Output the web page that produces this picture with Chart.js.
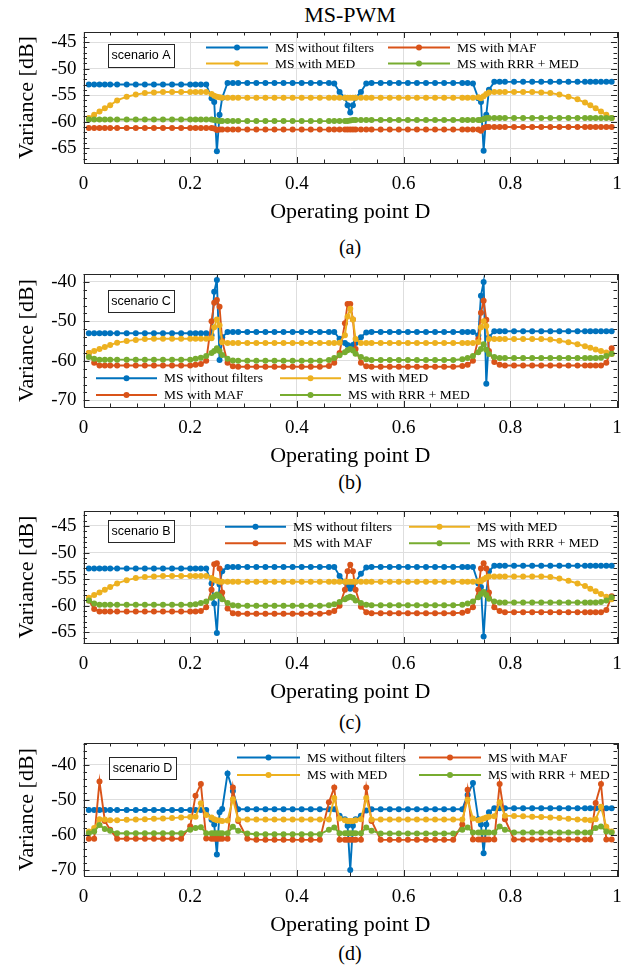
<!DOCTYPE html>
<html><head><meta charset="utf-8">
<script src="https://cdn.jsdelivr.net/npm/chart.js@4.4.1/dist/chart.umd.min.js"></script>
<style>
body{margin:0;background:#fff;width:638px;height:969px;position:relative;overflow:hidden;}
canvas{position:absolute;left:0;}
.t{position:absolute;left:0;width:700px;text-align:center;color:#000;font-family:'Liberation Serif',serif;}
</style></head><body>
<div class="t" style="top:2px;font-size:22px;line-height:26px;">MS-PWM</div>
<div class="t" style="top:235px;font-size:20px;line-height:24px;">(a)</div>
<div class="t" style="top:470px;font-size:20px;line-height:24px;">(b)</div>
<div class="t" style="top:710px;font-size:20px;line-height:24px;">(c)</div>
<div class="t" style="top:941px;font-size:20px;line-height:24px;">(d)</div>
<canvas id="ca"></canvas><canvas id="cb"></canvas><canvas id="cc"></canvas><canvas id="cd"></canvas>
<script>
// ---------------- data ----------------
const xD = [0.01,0.02,0.03,0.04,0.05,0.063,0.081,0.098,0.115,0.132,
 0.149,0.166,0.183,0.20,0.21,0.22,0.23,0.24,0.245,0.25,
 0.255,0.26,0.27,0.28,0.29,0.307,0.324,0.341,0.358,0.375,
 0.392,0.409,0.426,0.443,0.46,0.47,0.48,0.49,0.495,0.50,
 0.505,0.51,0.52,0.53,0.54,0.557,0.574,0.591,0.608,0.625,
 0.642,0.659,0.676,0.693,0.71,0.72,0.73,0.74,0.745,0.75,
 0.755,0.76,0.77,0.78,0.79,0.807,0.824,0.841,0.858,0.875,
 0.892,0.909,0.926,0.94,0.95,0.96,0.97,0.98,0.99];
const xTickVals = [0,0.2,0.4,0.6,0.8,1];
const xTickLabels = ['0','0.2','0.4','0.6','0.8','1'];
const yTicksA = [-65,-60,-55,-50,-45];
const yTicksB = [-70,-60,-50,-40];
const yTicksC = [-65,-60,-55,-50,-45];
const yTicksD = [-70,-60,-50,-40];
const seriesNames = ['MS without filters','MS with MAF','MS with MED','MS with RRR + MED'];
const scenarioNames = ['scenario A','scenario C','scenario B','scenario D'];

// scenario A
const blueA = [-53.0,-53.0,-53.0,-53.0,-53.0,-53.0,-53.0,-53.0,-53.0,-53.0,
 -53.0,-53.0,-53.0,-53.0,-53.0,-53.0,-53.0,-55.6,-56.3,-65.6,
 -58.7,-55.5,-52.7,-52.7,-52.7,-52.7,-52.7,-52.7,-52.7,-52.7,
 -52.7,-52.7,-52.7,-52.7,-52.7,-52.8,-54.4,-55.5,-56.9,-58.3,
 -56.9,-55.5,-54.4,-52.8,-52.7,-52.7,-52.7,-52.7,-52.7,-52.7,
 -52.7,-52.7,-52.7,-52.7,-52.7,-52.7,-52.8,-55.6,-56.3,-65.5,
 -58.7,-54.0,-52.5,-52.5,-52.5,-52.5,-52.5,-52.5,-52.5,-52.5,
 -52.5,-52.5,-52.5,-52.5,-52.5,-52.5,-52.5,-52.5,-52.5];
const redA = [-61.2,-61.2,-61.2,-61.2,-61.2,-61.2,-61.2,-61.2,-61.2,-61.2,
 -61.2,-61.2,-61.2,-61.2,-61.2,-61.2,-61.2,-61.2,-61.3,-61.6,
 -61.5,-61.5,-61.5,-61.5,-61.5,-61.5,-61.5,-61.5,-61.5,-61.5,
 -61.5,-61.5,-61.5,-61.5,-61.5,-61.5,-61.5,-61.5,-61.5,-61.5,
 -61.5,-61.5,-61.5,-61.5,-61.5,-61.5,-61.5,-61.5,-61.5,-61.5,
 -61.5,-61.5,-61.5,-61.5,-61.5,-61.5,-61.5,-61.5,-61.7,-61.2,
 -61.0,-61.0,-61.0,-61.0,-61.0,-61.0,-61.0,-61.0,-61.0,-61.0,
 -61.0,-61.0,-61.0,-61.0,-61.0,-61.0,-61.0,-61.0,-61.0];
const yellowA = [-59.3,-58.7,-58.1,-57.5,-56.9,-56.0,-55.3,-54.9,-54.6,-54.5,
 -54.4,-54.4,-54.4,-54.4,-54.4,-54.4,-54.4,-54.8,-55.1,-55.3,
 -55.4,-55.5,-55.5,-55.5,-55.5,-55.5,-55.5,-55.5,-55.5,-55.5,
 -55.5,-55.5,-55.5,-55.5,-55.5,-55.5,-55.5,-55.5,-55.5,-55.5,
 -55.5,-55.5,-55.5,-55.5,-55.5,-55.5,-55.5,-55.5,-55.5,-55.5,
 -55.5,-55.5,-55.5,-55.5,-55.5,-55.5,-55.5,-55.4,-55.6,-55.2,
 -54.8,-54.5,-54.4,-54.4,-54.4,-54.4,-54.4,-54.4,-54.5,-54.6,
 -54.9,-55.3,-55.8,-56.4,-56.9,-57.5,-58.1,-58.7,-59.3];
const greenA = [-59.6,-59.6,-59.6,-59.6,-59.6,-59.6,-59.6,-59.6,-59.6,-59.6,
 -59.6,-59.6,-59.6,-59.6,-59.6,-59.6,-59.6,-59.6,-59.7,-59.8,
 -59.9,-59.9,-59.9,-59.9,-59.9,-59.9,-59.9,-59.9,-59.9,-59.9,
 -59.9,-59.9,-59.9,-59.9,-59.9,-59.9,-59.9,-59.9,-59.9,-59.8,
 -59.7,-59.7,-59.7,-59.7,-59.7,-59.7,-59.7,-59.7,-59.7,-59.7,
 -59.7,-59.7,-59.7,-59.7,-59.7,-59.7,-59.7,-59.7,-59.7,-59.5,
 -59.3,-59.3,-59.3,-59.3,-59.3,-59.3,-59.3,-59.3,-59.3,-59.3,
 -59.3,-59.3,-59.3,-59.3,-59.3,-59.3,-59.3,-59.3,-59.3];

// scenario C
const blueB = [-53.0,-53.0,-53.0,-53.0,-53.0,-53.0,-53.0,-53.0,-53.0,-53.0,
 -53.0,-53.0,-53.0,-53.0,-53.0,-53.0,-53.0,-53.5,-42.5,-39.5,
 -59.8,-54.0,-52.7,-52.7,-52.7,-52.7,-52.7,-52.7,-52.7,-52.7,
 -52.7,-52.7,-52.7,-52.7,-52.7,-52.7,-54.4,-55.5,-56.0,-56.5,
 -56.0,-55.5,-54.0,-52.8,-52.7,-52.7,-52.7,-52.7,-52.7,-52.7,
 -52.7,-52.7,-52.7,-52.7,-52.7,-52.7,-52.7,-53.5,-43.5,-40.0,
 -65.8,-54.0,-52.5,-52.5,-52.5,-52.5,-52.5,-52.5,-52.5,-52.5,
 -52.5,-52.5,-52.5,-52.5,-52.5,-52.5,-52.5,-52.5,-52.5];
const redB = [-58.0,-60.5,-61.2,-61.2,-61.2,-61.2,-61.2,-61.2,-61.2,-61.2,
 -61.2,-61.2,-61.2,-61.2,-61.0,-60.8,-60.0,-50.0,-45.3,-44.6,
 -46.3,-55.0,-60.5,-61.4,-61.5,-61.5,-61.5,-61.5,-61.5,-61.5,
 -61.5,-61.5,-61.5,-61.5,-61.3,-60.5,-58.0,-50.5,-45.6,-45.6,
 -49.5,-57.0,-60.5,-61.4,-61.5,-61.5,-61.5,-61.5,-61.5,-61.5,
 -61.5,-61.5,-61.5,-61.5,-61.3,-61.0,-60.0,-54.5,-47.8,-44.8,
 -49.6,-57.5,-60.3,-61.0,-61.2,-61.2,-61.2,-61.2,-61.2,-61.2,
 -61.2,-61.2,-61.2,-61.2,-61.2,-61.2,-61.2,-60.5,-56.8];
const yellowB = [-58.0,-57.5,-57.0,-56.5,-56.0,-55.4,-55.0,-54.7,-54.5,-54.4,
 -54.4,-54.4,-54.4,-54.4,-54.4,-54.4,-54.4,-54.3,-51.5,-49.5,
 -51.0,-55.3,-55.5,-55.5,-55.5,-55.5,-55.5,-55.5,-55.5,-55.5,
 -55.5,-55.5,-55.5,-55.5,-55.5,-55.5,-55.4,-53.5,-48.8,-46.8,
 -49.5,-54.5,-55.5,-55.5,-55.5,-55.5,-55.5,-55.5,-55.5,-55.5,
 -55.5,-55.5,-55.5,-55.5,-55.5,-55.5,-55.5,-55.2,-51.5,-50.0,
 -51.2,-54.5,-54.5,-54.5,-54.5,-54.5,-54.5,-54.5,-54.5,-54.6,
 -54.9,-55.3,-55.8,-56.3,-56.7,-57.1,-57.5,-57.9,-58.3];
const greenB = [-59.0,-59.5,-59.7,-59.7,-59.7,-59.7,-59.7,-59.7,-59.7,-59.7,
 -59.7,-59.7,-59.7,-59.7,-59.5,-59.2,-58.8,-58.0,-57.5,-56.8,
 -57.5,-58.5,-59.5,-59.9,-60.0,-60.0,-60.0,-60.0,-60.0,-60.0,
 -60.0,-60.0,-60.0,-60.0,-59.8,-59.3,-58.6,-57.8,-57.3,-57.0,
 -57.4,-58.2,-59.0,-59.6,-59.8,-59.8,-59.8,-59.8,-59.8,-59.8,
 -59.8,-59.8,-59.8,-59.8,-59.6,-59.3,-58.8,-57.8,-57.0,-55.8,
 -57.2,-58.3,-59.0,-59.3,-59.3,-59.3,-59.3,-59.3,-59.3,-59.3,
 -59.3,-59.3,-59.3,-59.3,-59.3,-59.3,-59.2,-58.8,-58.2];

// scenario B
const blueC = [-53.0,-53.0,-53.0,-53.0,-53.0,-53.0,-53.0,-53.0,-53.0,-53.0,
 -53.0,-53.0,-53.0,-53.0,-53.0,-53.0,-53.0,-55.8,-59.6,-65.1,
 -56.0,-53.5,-52.7,-52.7,-52.7,-52.7,-52.7,-52.7,-52.7,-52.7,
 -52.7,-52.7,-52.7,-52.7,-52.7,-52.7,-54.4,-55.5,-56.2,-56.8,
 -56.2,-55.5,-54.0,-52.8,-52.7,-52.7,-52.7,-52.7,-52.7,-52.7,
 -52.7,-52.7,-52.7,-52.7,-52.7,-52.7,-52.7,-55.8,-56.5,-65.8,
 -57.5,-53.5,-52.5,-52.5,-52.5,-52.5,-52.5,-52.5,-52.5,-52.5,
 -52.5,-52.5,-52.5,-52.5,-52.5,-52.5,-52.5,-52.5,-52.5];
const redC = [-59.0,-60.6,-61.1,-61.1,-61.1,-61.1,-61.1,-61.1,-61.1,-61.1,
 -61.1,-61.1,-61.1,-61.1,-61.1,-61.0,-60.3,-57.0,-52.2,-52.0,
 -53.0,-57.5,-60.5,-61.4,-61.5,-61.5,-61.5,-61.5,-61.5,-61.5,
 -61.5,-61.5,-61.5,-61.5,-61.3,-61.0,-60.0,-57.0,-53.5,-52.3,
 -53.5,-57.0,-60.2,-61.2,-61.4,-61.4,-61.4,-61.4,-61.4,-61.4,
 -61.4,-61.4,-61.4,-61.4,-61.3,-61.0,-60.3,-57.0,-53.0,-52.0,
 -53.0,-57.5,-60.3,-61.0,-61.2,-61.2,-61.2,-61.2,-61.2,-61.2,
 -61.2,-61.2,-61.2,-61.2,-61.2,-61.2,-61.2,-60.8,-58.2];
const yellowC = [-58.5,-58.0,-57.5,-57.0,-56.5,-55.8,-55.2,-54.8,-54.6,-54.5,
 -54.4,-54.4,-54.4,-54.4,-54.4,-54.4,-54.4,-54.8,-55.1,-55.3,
 -55.5,-55.5,-55.5,-55.5,-55.5,-55.5,-55.5,-55.5,-55.5,-55.5,
 -55.5,-55.5,-55.5,-55.5,-55.5,-55.5,-55.5,-55.5,-55.5,-55.5,
 -55.5,-55.5,-55.5,-55.5,-55.5,-55.5,-55.5,-55.5,-55.5,-55.5,
 -55.5,-55.5,-55.5,-55.5,-55.5,-55.5,-55.5,-55.4,-55.4,-55.0,
 -54.7,-54.5,-54.5,-54.5,-54.5,-54.5,-54.5,-54.5,-54.5,-54.6,
 -54.9,-55.3,-55.8,-56.3,-56.8,-57.3,-57.8,-58.3,-58.8];
const greenC = [-59.0,-59.6,-59.8,-59.8,-59.8,-59.8,-59.8,-59.8,-59.8,-59.8,
 -59.8,-59.8,-59.8,-59.8,-59.7,-59.5,-59.2,-58.5,-58.2,-57.9,
 -58.2,-58.8,-59.5,-59.9,-60.0,-60.0,-60.0,-60.0,-60.0,-60.0,
 -60.0,-60.0,-60.0,-60.0,-59.9,-59.7,-59.3,-58.8,-58.5,-58.3,
 -58.5,-59.0,-59.5,-59.8,-59.9,-59.9,-59.9,-59.9,-59.9,-59.9,
 -59.9,-59.9,-59.9,-59.9,-59.8,-59.6,-59.2,-58.4,-57.8,-57.4,
 -58.0,-58.7,-59.2,-59.4,-59.4,-59.4,-59.4,-59.4,-59.4,-59.4,
 -59.4,-59.4,-59.4,-59.4,-59.4,-59.4,-59.3,-59.0,-58.4];

// scenario D
const blueD = [-52.9,-52.9,-52.9,-52.9,-52.9,-52.9,-52.9,-52.9,-52.9,-52.9,
 -52.9,-52.9,-52.9,-52.9,-52.9,-52.9,-52.9,-55.7,-57.0,-65.6,
 -53.5,-52.6,-42.5,-47.5,-52.7,-52.7,-52.7,-52.7,-52.7,-52.7,
 -52.7,-52.7,-52.7,-52.7,-52.7,-52.7,-54.5,-55.5,-57.4,-70.0,
 -57.4,-55.5,-54.5,-53.0,-52.7,-52.7,-52.7,-52.7,-52.7,-52.7,
 -52.7,-52.7,-52.7,-52.7,-52.7,-48.6,-45.2,-55.5,-57.0,-65.2,
 -57.0,-53.5,-52.4,-52.4,-52.4,-52.4,-52.4,-52.4,-52.4,-52.4,
 -52.4,-52.4,-52.4,-52.4,-52.4,-52.4,-52.4,-52.4,-52.4];
const redD = [-61.1,-61.1,-44.8,-56.0,-58.5,-61.1,-61.1,-61.1,-61.1,-61.1,
 -61.1,-61.1,-61.1,-57.5,-48.8,-45.5,-61.0,-61.1,-61.1,-61.1,
 -61.1,-61.1,-61.1,-46.5,-56.0,-61.1,-61.4,-61.4,-61.4,-61.4,
 -61.4,-61.4,-61.4,-61.4,-50.7,-46.5,-61.4,-61.4,-61.4,-61.4,
 -61.4,-61.4,-61.4,-46.5,-56.0,-61.4,-61.4,-61.4,-61.4,-61.4,
 -61.4,-61.4,-61.4,-61.4,-57.0,-47.1,-61.3,-61.3,-61.3,-61.3,
 -61.3,-61.3,-61.3,-45.5,-55.5,-61.3,-61.3,-61.3,-61.3,-61.3,
 -61.3,-61.3,-61.3,-61.3,-61.3,-50.9,-45.5,-61.3,-61.3];
const yellowD = [-59.0,-58.0,-55.5,-55.6,-55.8,-55.8,-55.7,-55.6,-55.5,-55.4,
 -55.3,-55.2,-55.0,-54.9,-54.8,-51.0,-54.3,-55.0,-55.5,-55.8,
 -55.9,-56.0,-55.9,-49.8,-55.6,-55.6,-55.6,-55.6,-55.6,-55.6,
 -55.6,-55.6,-55.6,-55.6,-55.6,-49.5,-55.3,-55.8,-56.0,-56.0,
 -56.0,-55.8,-55.5,-49.5,-55.6,-55.6,-55.6,-55.6,-55.6,-55.6,
 -55.6,-55.6,-55.6,-55.6,-55.6,-50.0,-55.3,-55.8,-55.6,-55.3,
 -55.0,-54.8,-54.7,-50.7,-54.5,-54.6,-54.7,-54.8,-54.9,-55.0,
 -55.2,-55.4,-55.6,-55.7,-55.8,-55.5,-52.0,-57.7,-59.0];
const greenD = [-59.5,-59.0,-57.2,-58.3,-58.8,-59.5,-59.5,-59.5,-59.5,-59.5,
 -59.5,-59.5,-59.5,-58.5,-58.0,-57.8,-59.5,-59.5,-59.5,-59.5,
 -59.5,-59.5,-59.5,-57.7,-58.8,-59.6,-59.8,-59.8,-59.8,-59.8,
 -59.8,-59.8,-59.8,-59.8,-58.5,-57.9,-59.5,-59.5,-59.5,-59.5,
 -59.5,-59.5,-59.5,-57.9,-58.8,-59.6,-59.6,-59.6,-59.6,-59.6,
 -59.6,-59.6,-59.6,-59.6,-58.5,-57.9,-59.3,-59.3,-59.3,-59.3,
 -59.3,-59.3,-59.3,-57.6,-58.5,-59.3,-59.3,-59.3,-59.3,-59.3,
 -59.3,-59.3,-59.3,-59.3,-59.3,-58.0,-57.6,-59.0,-59.3];

// ---------------- styling / layout ----------------
const COLORS = ['#0072BD','#D95319','#EDB120','#77AC30'];
const ORDERS = [3,2,1,0];
const SERIF = "'Liberation Serif', 'Times New Roman', serif";
const AX = '#262626';

function makePlot(id, frameTop, frameBottom, yMin, yMax, yTicks, yMinor, series, legend, scen, box) {
  const Ti = frameTop - 20;
  const H = frameBottom + 62 - Ti;
  const cv = document.getElementById(id);
  cv.width = 638; cv.height = H; cv.style.top = Ti + 'px';
  const datasets = series.map((arr, k) => ({
    label: seriesNames[k],
    data: xD.map((x, i) => ({x: x, y: arr[i]})),
    borderColor: COLORS[k], backgroundColor: COLORS[k],
    borderWidth: 1.9, pointRadius: 3.0, pointBorderWidth: 0, pointHoverRadius: 0,
    tension: 0, order: ORDERS[k]
  }));
  const deco = {
    id: 'deco_' + id,
    afterDatasetsDraw(chart) {
      const ctx = chart.ctx;
      const {left, right, top, bottom} = chart.chartArea;
      const xs = chart.scales.x, ys = chart.scales.y;
      ctx.save();
      ctx.strokeStyle = AX; ctx.lineWidth = 1;
      ctx.beginPath();
      for (let v = 0; v <= 1.0001; v += 0.05) {
        const major = Math.abs(v * 5 - Math.round(v * 5)) < 1e-6;
        const len = major ? 6 : 3.5;
        const p = Math.round(xs.getPixelForValue(v)) + 0.5;
        ctx.moveTo(p, bottom); ctx.lineTo(p, bottom - len);
        ctx.moveTo(p, top); ctx.lineTo(p, top + len);
      }
      for (let v = Math.ceil(yMin); v <= yMax; v += 1) {
        if (Math.abs(v % yMinor) > 1e-6) continue;
        const major = yTicks.indexOf(v) >= 0;
        const len = major ? 6 : 3.5;
        const p = Math.round(ys.getPixelForValue(v)) + 0.5;
        ctx.moveTo(left, p); ctx.lineTo(left + len, p);
        ctx.moveTo(right, p); ctx.lineTo(right - len, p);
      }
      ctx.stroke();
      ctx.strokeRect(Math.round(left) + 0.5, Math.round(top) + 0.5, Math.round(right - left), Math.round(bottom - top));
      // scenario box
      ctx.fillStyle = '#fff';
      ctx.fillRect(box[0], box[1] - Ti, box[2], box[3]);
      ctx.strokeRect(box[0] + 0.5, box[1] - Ti + 0.5, box[2], box[3]);
      ctx.fillStyle = '#000';
      ctx.font = "12.5px 'Liberation Sans', Arial, sans-serif";
      ctx.textAlign = 'center'; ctx.textBaseline = 'middle';
      ctx.fillText(scen, box[0] + box[2] / 2, box[1] - Ti + box[3] / 2 + 0.5);
      // legend
      ctx.textAlign = 'left';
      ctx.font = '13.5px ' + SERIF;
      for (const it of legend) {
        const k = it[0], x1 = it[1], x2 = it[2], y = it[3] - Ti;
        ctx.strokeStyle = COLORS[k]; ctx.lineWidth = 1.9;
        ctx.beginPath(); ctx.moveTo(x1, y); ctx.lineTo(x2, y); ctx.stroke();
        ctx.fillStyle = COLORS[k];
        ctx.beginPath(); ctx.arc((x1 + x2) / 2, y, 3.0, 0, Math.PI * 2); ctx.fill();
        ctx.fillStyle = '#000';
        ctx.fillText(seriesNames[k], x2 + 7, y + 0.5);
      }
      ctx.restore();
    }
  };
  return new Chart(cv, {
    type: 'line',
    data: {datasets},
    options: {
      responsive: false, animation: false, events: [], devicePixelRatio: 1,
      layout: {padding: {top: 20, right: 21, left: 0, bottom: 0}},
      plugins: {legend: {display: false}, tooltip: {enabled: false}, title: {display: false}},
      scales: {
        x: {
          type: 'linear', min: 0, max: 1,
          afterBuildTicks: s => { s.ticks = xTickVals.map(v => ({value: v})); },
          afterFit: s => { s.height = 62; },
          ticks: {autoSkip: false, maxRotation: 0, padding: 10, color: '#000',
            font: {family: SERIF, size: 19}, callback: (v, i) => xTickLabels[i]},
          grid: {color: '#dedede', drawTicks: false, lineWidth: 1},
          border: {display: false},
          title: {display: true, text: 'Operating point D', color: '#000',
            font: {family: SERIF, size: 22}, padding: {top: 0, bottom: 0}}
        },
        y: {
          type: 'linear', min: yMin, max: yMax,
          afterBuildTicks: s => { s.ticks = yTicks.map(v => ({value: v})); },
          afterFit: s => { s.width = 83.5; },
          ticks: {autoSkip: false, padding: 7, color: '#000',
            font: {family: SERIF, size: 19}, callback: (v) => String(v)},
          grid: {color: '#dedede', drawTicks: false, lineWidth: 1},
          border: {display: false},
          title: {display: true, text: 'Variance [dB]', color: '#000',
            font: {family: SERIF, size: 22}, padding: {top: 14, bottom: 0}}
        }
      }
    },
    plugins: [deco]
  });
}

makePlot('ca', 32, 163, -67.8, -43.1, yTicksA, 1, [blueA, redA, yellowA, greenA],
  [[0,206,268,47.5],[1,388,450,47.5],[2,206,268,63.5],[3,388,450,63.5]],
  scenarioNames[0], [108,44,66,23]);
makePlot('cb', 274, 407, -71.7, -38.0, yTicksB, 2, [blueB, redB, yellowB, greenB],
  [[0,96,157,378.3],[1,96,157,395],[2,280,341,378.3],[3,280,341,395]],
  scenarioNames[1], [108,290,66,22]);
makePlot('cc', 511, 643, -67.0, -42.2, yTicksC, 1, [blueC, redC, yellowC, greenC],
  [[0,225,286,526.7],[1,225,286,543.3],[2,409,470,526.7],[3,409,470,543.3]],
  scenarioNames[2], [108,520,66,22]);
makePlot('cd', 743, 876, -71.7, -33.8, yTicksD, 2, [blueD, redD, yellowD, greenD],
  [[0,237,300,757.5],[1,419,481,757.5],[2,237,300,775],[3,419,481,775]],
  scenarioNames[3], [109,757,67,22]);
</script>
</body></html>
